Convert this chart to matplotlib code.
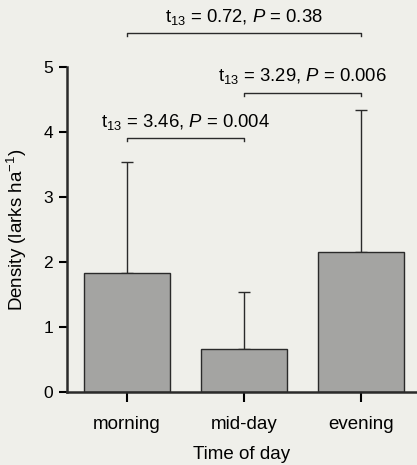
import matplotlib
matplotlib.use('Agg')
import matplotlib.pyplot as plt

plt.rcParams['font.family'] = ['Liberation Sans', 'DejaVu Sans']
plt.rcParams['mathtext.fontset'] = 'custom'
plt.rcParams['mathtext.rm'] = 'Liberation Sans'
plt.rcParams['mathtext.it'] = 'Liberation Sans:italic'

# data
times = ['morning', 'mid-day', 'evening']
density = [1.83, 0.66, 2.15]
upper_err = [1.71, 0.88, 2.19]

# pairwise comparisons: (left bar, right bar, bracket height, t, P)
comparisons = [
    (0, 1, 3.9, '3.46', '0.004'),
    (1, 2, 4.6, '3.29', '0.006'),
    (0, 2, 5.52, '0.72', '0.38'),
]

bg = '#efefea'
fig = plt.figure(figsize=(4.17, 4.65), dpi=100, facecolor=bg)
ax = fig.add_axes([0.1607, 0.157, 0.8393, 0.699])
ax.set_facecolor(bg)

x = list(range(len(times)))
ax.bar(x, density, width=0.73, color='#a4a4a2', edgecolor='#2a2a2a', linewidth=1.0, zorder=2)
ax.errorbar(x, density, yerr=[[0] * len(x), upper_err], fmt='none', ecolor='#2a2a2a',
            elinewidth=1.0, capsize=4.5, capthick=1.0, zorder=1)

for i, j, h, t, p in comparisons:
    ax.plot([x[i], x[i], x[j], x[j]], [h - 0.04, h, h, h - 0.04], color='#2a2a2a',
            lw=1.0, clip_on=False)
    ax.text((x[i] + x[j]) / 2, h + 0.1, r'$\mathregular{t_{13}}$ = ' + t + ', $P$ = ' + p,
            ha='center', va='bottom', fontsize=13.3, clip_on=False)

ax.set_xlim(-0.513, 2.479)
ax.set_ylim(0, 5)
ax.set_xticks(x)
ax.set_xticklabels(times, fontsize=13.5)
ax.set_yticks(range(6))
ax.tick_params(axis='y', labelsize=12.5, length=6, width=1.5, direction='out', pad=4)
ax.tick_params(axis='x', length=7, width=1.5, direction='out', pad=10)
ax.spines['top'].set_visible(False)
ax.spines['right'].set_visible(False)
ax.spines['left'].set_linewidth(1.8)
ax.spines['bottom'].set_linewidth(1.8)
ax.spines['left'].set_color('#2a2a2a')
ax.spines['bottom'].set_color('#2a2a2a')

ax.set_xlabel('Time of day', fontsize=13.5, labelpad=10)
ax.set_ylabel('Density (larks ha$^{-1}$)', fontsize=13.5, labelpad=10)

fig.savefig('out.png', dpi=100, facecolor=bg)
